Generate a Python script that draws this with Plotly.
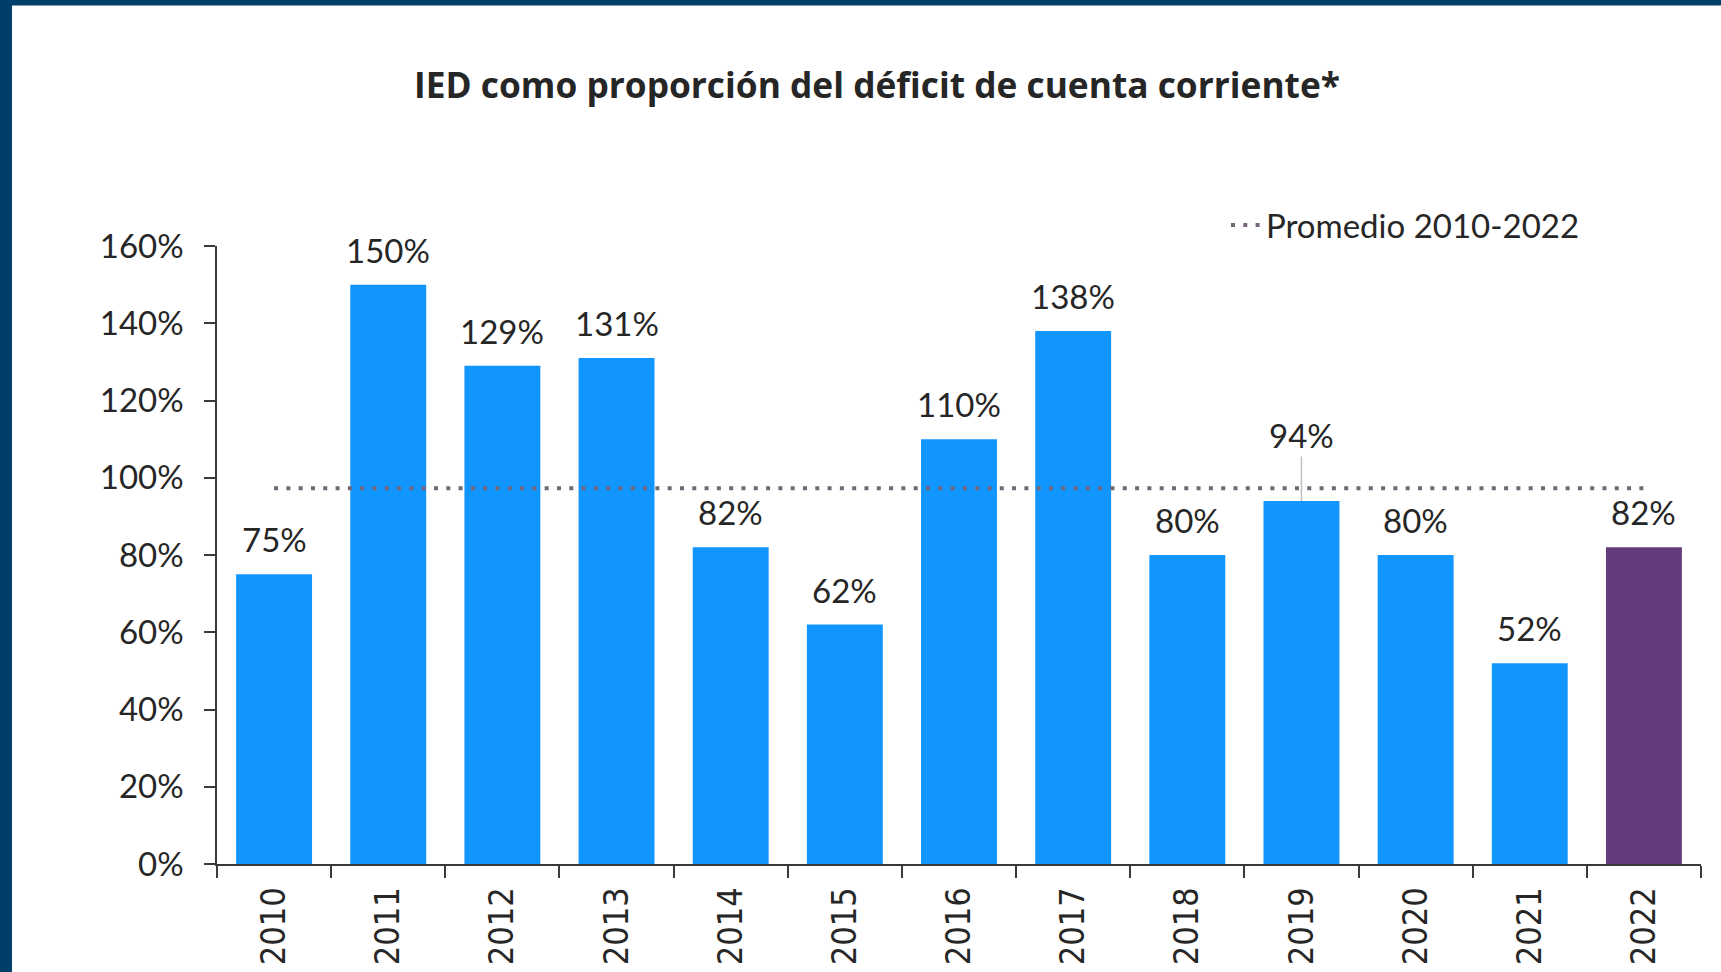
import plotly.graph_objects as go

# ---- data ----
years = ["2010", "2011", "2012", "2013", "2014", "2015", "2016",
         "2017", "2018", "2019", "2020", "2021", "2022"]
ied_share = [75, 150, 129, 131, 82, 62, 110, 138, 80, 94, 80, 52, 82]
average_2010_2022 = 97.3
labels = ["75%", "150%", "129%", "131%", "82%", "62%", "110%",
          "138%", "80%", "94%", "80%", "52%", "82%"]
y_ticks = [0, 20, 40, 60, 80, 100, 120, 140, 160]
y_tick_text = ["0%", "20%", "40%", "60%", "80%", "100%", "120%", "140%", "160%"]

TITLE = "IED como proporción del déficit de cuenta corriente*"
LEGEND_NAME = "Promedio 2010-2022"

# ---- styling ----
W, H = 1721, 972
ML, MR, MT, MB = 217, 20, 246, 108
BLUE = "#1195FF"
PURPLE = "#643B7C"
DOT = "#76667A"
TXT = "#262626"
AX = "#3A3A3A"
NAVY = "#013F6B"
LBL_FONT = "Lato, Open Sans, sans-serif"
TITLE_FONT = "Open Sans, Lato, sans-serif"
XFONT = "DejaVu Sans Condensed, DejaVu Sans, sans-serif"

bar_colors = [PURPLE if y == "2022" else BLUE for y in years]

fig = go.Figure()
fig.add_trace(go.Bar(
    x=years, y=ied_share, marker=dict(color=bar_colors, line=dict(width=0)),
    showlegend=False, hoverinfo="x+y",
))
fig.add_trace(go.Scatter(
    x=years, y=[average_2010_2022] * len(years), mode="lines",
    name=LEGEND_NAME,
    line=dict(color=DOT, width=4, dash="4px,8.3px"),
    showlegend=True,
))

# data labels (x given as category index)
for i, (yr, v, t) in enumerate(zip(years, ied_share, labels)):
    if yr == "2019":
        fig.add_annotation(x=i, y=v, text=t, showarrow=True, ax=0, ay=-66,
                           arrowhead=0, arrowwidth=1.5, arrowcolor="#BFBFBF",
                           standoff=0, font=dict(family=LBL_FONT, size=33, color=TXT))
    else:
        fig.add_annotation(x=i, y=v, text=t, showarrow=False, yanchor="bottom",
                           yshift=13, font=dict(family=LBL_FONT, size=33, color=TXT))

# page frame (dark band at left and top)
pw = W - ML - MR
ph = H - MT - MB
fig.add_shape(type="rect", xref="paper", yref="paper", layer="above",
              x0=-0.3, x1=(12 - ML) / pw, y0=-0.5, y1=1.6,
              fillcolor=NAVY, line=dict(width=0))
fig.add_shape(type="rect", xref="paper", yref="paper", layer="above",
              x0=-0.3, x1=1.2, y0=(H - MB - 5.5) / ph, y1=1.6,
              fillcolor=NAVY, line=dict(width=0))

fig.update_layout(
    width=W, height=H,
    margin=dict(l=ML, r=MR, t=MT, b=MB, autoexpand=False),
    paper_bgcolor="white", plot_bgcolor="white",
    bargap=0.335,
    title=dict(text=f"<b>{TITLE}</b>", x=877 / W, xanchor="center", xref="container",
               y=1 - 86 / H, yanchor="middle", yref="container",
               font=dict(family=TITLE_FONT, size=35.3, color=TXT)),
    legend=dict(x=(1231 - ML - 5) / pw, xanchor="left", y=(H - MB - 225) / ph,
                yanchor="middle", bgcolor="rgba(0,0,0,0)",
                font=dict(family=LBL_FONT, size=33, color=TXT)),
    xaxis=dict(
        type="category", showline=True, linecolor=AX, linewidth=1.5,
        ticks="outside", tickson="boundaries", ticklen=12, tickwidth=1.5, tickcolor=AX,
        tickangle=-90, ticklabelstandoff=8, automargin=False,
        tickfont=dict(family=XFONT, size=34, color=TXT),
        showgrid=False, zeroline=False,
    ),
    yaxis=dict(
        range=[0, 160], tickmode="array", tickvals=y_ticks, ticktext=y_tick_text,
        showline=True, linecolor=AX, linewidth=1.5,
        ticks="outside", ticklen=11, tickwidth=1.5, tickcolor=AX,
        ticklabelstandoff=14, automargin=False,
        tickfont=dict(family=LBL_FONT, size=33, color=TXT),
        showgrid=False, zeroline=False,
    ),
)

fig.write_html("out.html", config={"displayModeBar": False},
               post_script="document.body.style.margin='0';document.body.style.overflow='hidden';")
